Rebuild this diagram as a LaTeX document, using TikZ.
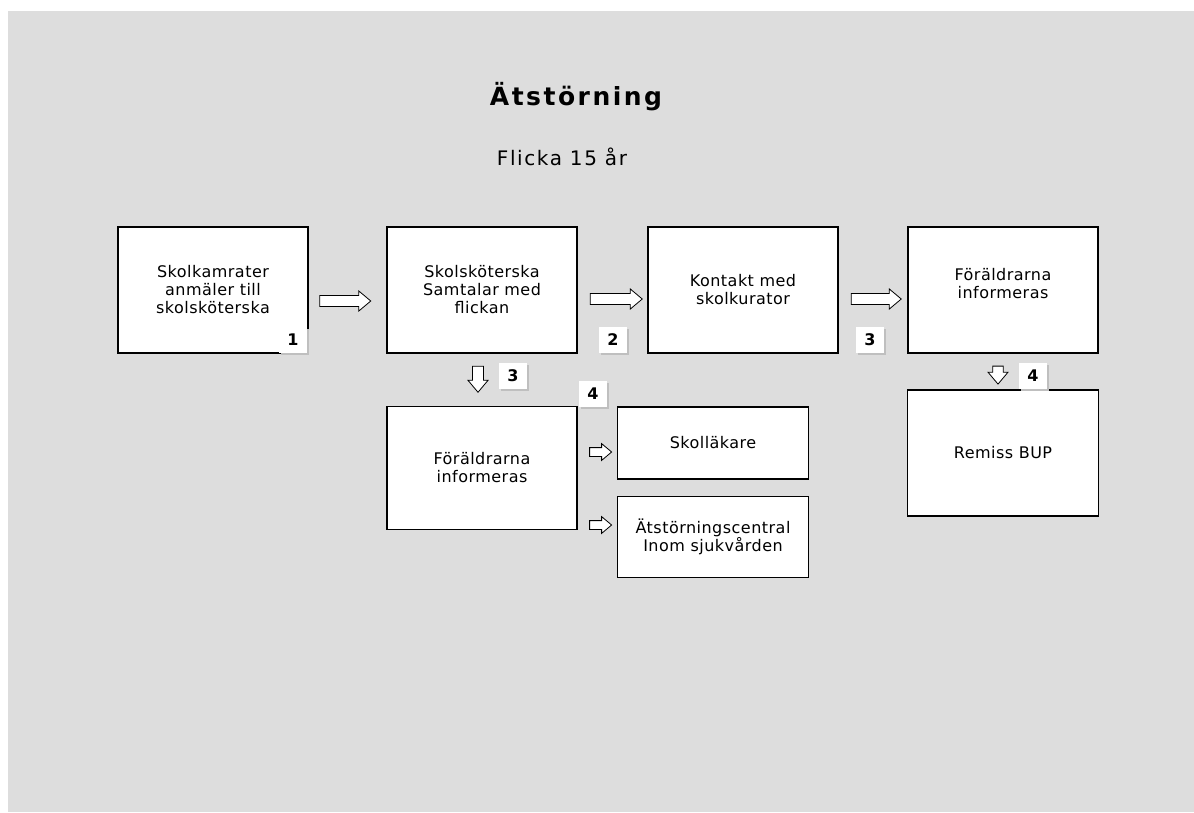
\documentclass[tikz,border=0pt]{standalone}
\usepackage{fontspec}
\setmainfont[LetterSpace = 3]{DejaVu Sans}
\usetikzlibrary{shapes.arrows, shadows}
\definecolor{bg}{HTML}{DDDDDD}

\begin{document}
\begin{tikzpicture}[x = 1pt, y = -1pt,
    box/.style = {draw, fill = white, line width = 1.2pt, inner sep = 0pt,
                  align = center, font = \fontsize{16}{18}\selectfont},
    num/.style = {fill = white, minimum width = 28pt, minimum height = 26pt,
                  inner sep = 0pt, font = \fontsize{16}{18}\selectfont\bfseries,
                  drop shadow = {shadow xshift = 1.5pt, shadow yshift = -1.5pt,
                                 fill = black!25, opacity = 1}},
    blk/.style = {single arrow, draw, fill = white, line width = 0.8pt,
                  inner xsep = 0pt, inner ysep = 5pt, minimum width = 20pt,
                  single arrow head extend = 4.5pt, single arrow tip angle = 80},
    dblk/.style = {blk, shape border rotate = 270, inner xsep = 5pt, inner ysep = 0pt}]
  \useasboundingbox (0, 0) rectangle (1194, 812);
  \fill [bg] (8, 11) rectangle (1194, 812);

  \node (t0) at (576, 97)
        {\fontsize{25}{28}\selectfont\bfseries\addfontfeature{LetterSpace = 10}Ätstörning};
  \node (t1) at (562, 157)
        {\fontsize{20}{22}\selectfont\addfontfeature{LetterSpace = 8}Flicka 15 år};

  % top row
  \node [box, minimum width = 190pt, minimum height = 126pt] (b1) at (213, 290)
        {Skolkamrater\\anmäler till\\skolsköterska};
  \node [box, minimum width = 190pt, minimum height = 126pt] (b2) at (482, 290)
        {Skolsköterska\\Samtalar med\\flickan};
  \node [box, minimum width = 190pt, minimum height = 126pt] (b3) at (743, 290)
        {Kontakt med\\skolkurator};
  \node [box, minimum width = 190pt, minimum height = 126pt] (b4) at (1003, 290)
        {Föräldrarna\\informeras\\[-4pt]};

  % lower row
  \node [box, minimum width = 190pt, minimum height = 123pt] (c1) at (482, 468)
        {Föräldrarna\\informeras};
  \node [box, minimum width = 191pt, minimum height = 72pt] (c2) at (713, 443)
        {Skolläkare};
  \node [box, minimum width = 191pt, minimum height = 81pt] (c3) at (713, 537)
        {Ätstörningscentral\\Inom sjukvården};
  \node [box, minimum width = 191pt, minimum height = 126pt] (c4) at (1003, 453)
        {Remiss BUP};

  % arrows
  \node [blk, minimum height = 51pt] (a1) at (342, 301) {};
  \node [blk, minimum height = 52pt] (a2) at (613, 299) {};
  \node [blk, minimum height = 50pt] (a3) at (873, 299) {};
  \node [dblk, minimum height = 26pt] (a4) at (478, 376) {};
  \node [dblk, minimum height = 18pt, inner xsep = 4.5pt] (a5) at (998, 372) {};
  \node [blk, minimum height = 22pt, minimum width = 16pt, inner ysep = 4pt,
         single arrow head extend = 4pt] (a6) at (598, 452) {};
  \node [blk, minimum height = 22pt, minimum width = 16pt, inner ysep = 4pt,
         single arrow head extend = 4pt] (a7) at (598, 525) {};

  % step numbers
  \node [num] (n1) at (293, 340) {1};
  \node [num] (n2) at (613, 340) {2};
  \node [num] (n3) at (870, 340) {3};
  \node [num] (n4) at (513, 376) {3};
  \node [num] (n5) at (593, 394) {4};
  \node [num] (n6) at (1033, 376) {4};
\end{tikzpicture}
\end{document}
